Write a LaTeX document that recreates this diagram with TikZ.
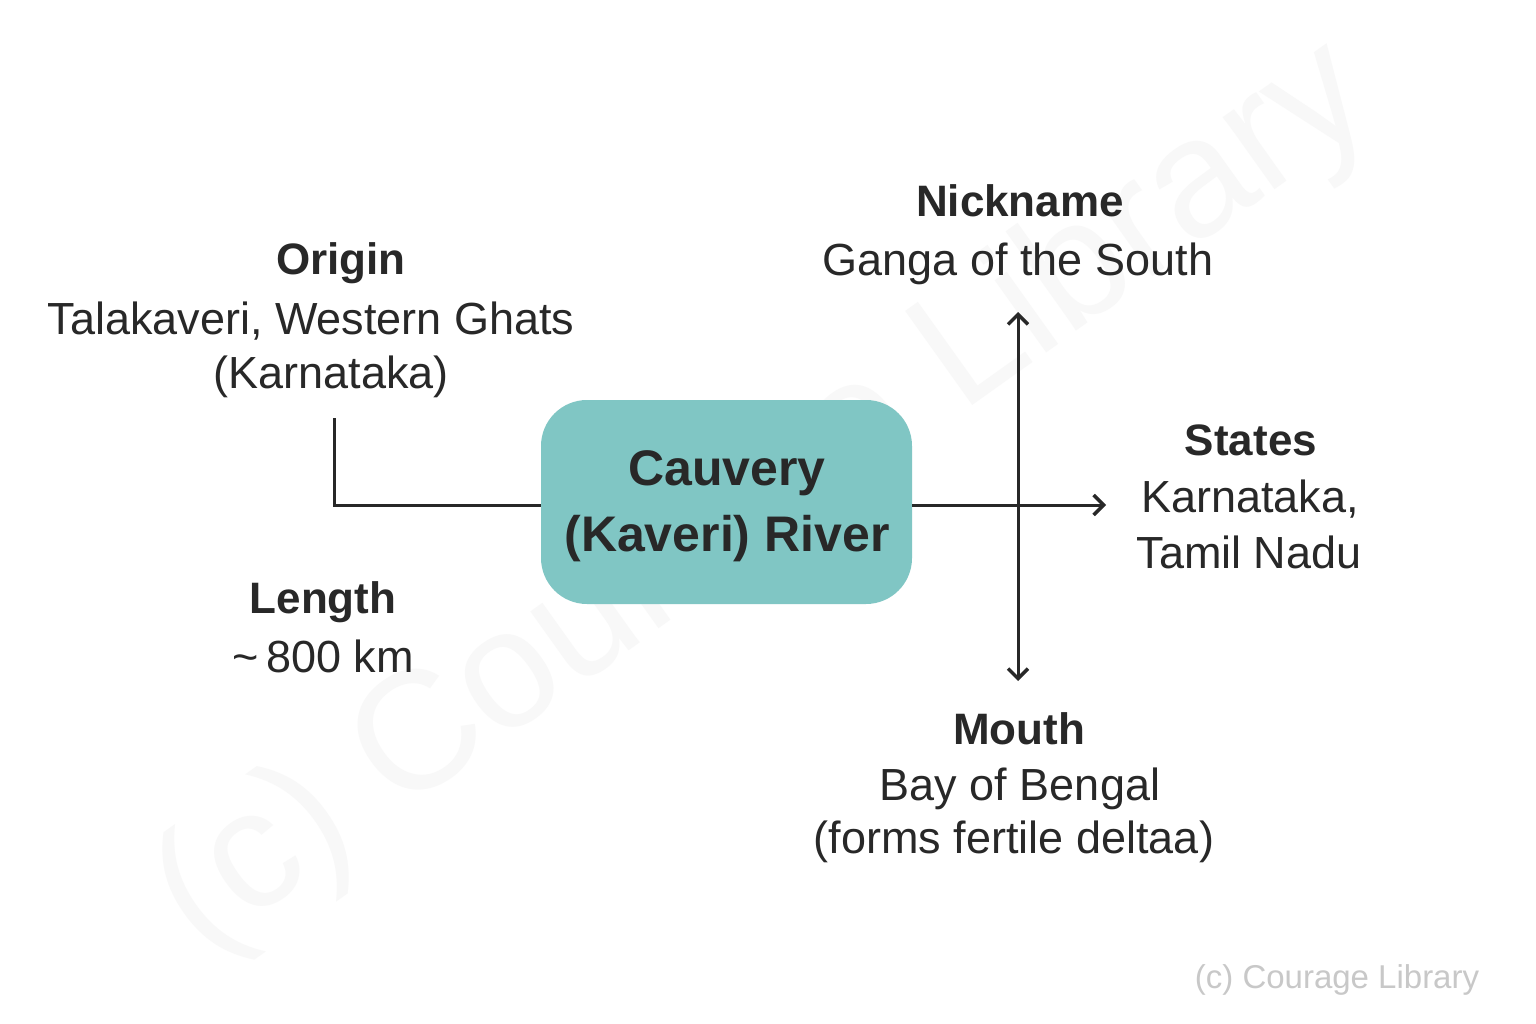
\documentclass[tikz,border=0pt]{standalone}
\usepackage{fontspec}
\setmainfont{Liberation Sans}
\usetikzlibrary{arrows.meta}
\definecolor{txt}{RGB}{40,40,40}
\definecolor{teal}{RGB}{128,198,196}
\definecolor{wmark}{RGB}{200,200,200}
\definecolor{wfaint}{RGB}{248,248,248}
\tikzset{
  body/.style={anchor=base, inner sep=0pt, text=txt, font=\fontsize{45}{54}\selectfont},
  head/.style={anchor=base, inner sep=0pt, text=txt, font=\bfseries\fontsize{44}{52}\selectfont},
  boxtext/.style={anchor=base, inner sep=0pt, text=txt, font=\bfseries\fontsize{50}{60}\selectfont},
  river/.style={fill=teal, draw=none, rounded corners=46pt, minimum width=371pt, minimum height=204pt, inner sep=0pt},
  conn/.style={draw=txt, line width=3pt},
  barb/.tip={Straight Barb[length=10pt,width=20pt,line width=3.4pt]},
}
\begin{document}
\begin{tikzpicture}[x=1pt,y=-1pt]
\useasboundingbox[fill=white] (0,0) rectangle (1536,1024);
% faint diagonal watermark
\node[rotate=35.5, text=wfaint, font=\fontsize{168}{190}\selectfont, inner sep=0pt] (wmdiag) at (765,500) {(c) Courage Library};
% central box
\node[river] (box) at (726.5,502) {};
\node[boxtext] (boxA) at (727,485) {Cauvery};
\node[boxtext] (boxB) at (727,551) {(Kaveri) River};
% coordinates for connector ends
\coordinate (origend) at (334,418);
\coordinate (statesend) at (1106,505);
\coordinate (nickend) at (1018,312);
\coordinate (mouthend) at (1018,681);
% connectors
\draw[conn] (box.west |- 0,505) -| (origend);
\draw[conn,-barb] (box.east |- 0,505) -- (statesend);
\draw[conn,barb-barb] (nickend) -- (mouthend);
% Origin
\node[head] (origH) at (341,275) {Origin};
\node[body] (origL1) at (311,334) {Talakaveri, Western Ghats};
\node[body] (origL2) at (331,388) {(Karnataka)};
% Length
\node[head] (lenH) at (323,613) {Length};
\node[body] (lenL1) at (323,672) {\textasciitilde\,800 km};
% Nickname
\node[head] (nickH) at (1020,217) {Nickname};
\node[body] (nickL1) at (1018,276) {Ganga of the South};
% States
\node[head] (statH) at (1251,455) {States};
\node[body] (statL1) at (1250,512) {Karnataka,};
\node[body] (statL2) at (1249,568) {Tamil Nadu};
% Mouth
\node[head] (mouH) at (1019,744) {Mouth};
\node[body] (mouL1) at (1020,800) {Bay of Bengal};
\node[body] (mouL2) at (1014,853) {(forms fertile deltaa)};
% corner watermark
\node[anchor=base, inner sep=0pt, text=wmark, font=\fontsize{33}{40}\selectfont] (wmcorner) at (1337,988) {(c) Courage Library};
\end{tikzpicture}
\end{document}
